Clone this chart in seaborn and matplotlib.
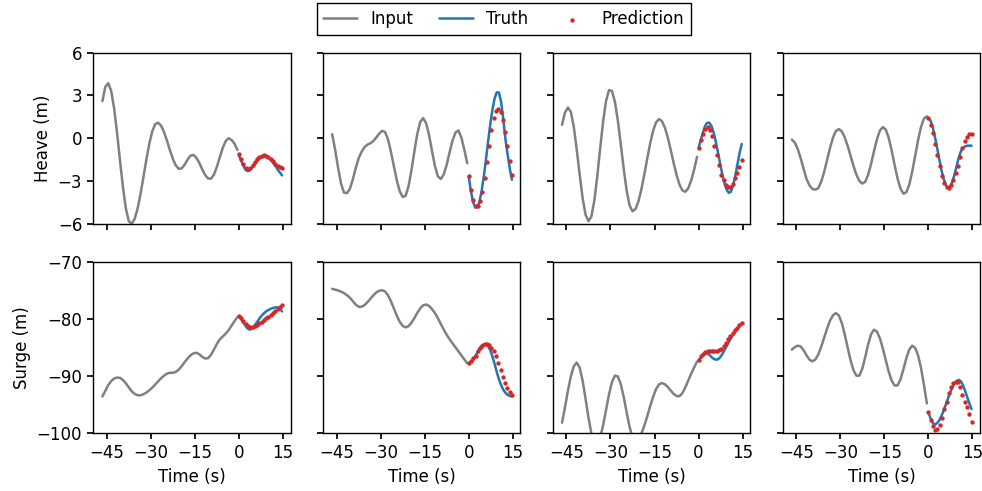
import numpy as np
import pandas as pd
import matplotlib
matplotlib.use("Agg")
import matplotlib.pyplot as plt
import seaborn as sns

# time axes (s)
t_in = np.arange(-46.5, 0, 1.0)
t_true = np.linspace(0, 14.7, 21)
t_pred = np.linspace(0, 14.7, 20)

# heave (m), one list per sample
heave_input = [
    [2.6, 3.6, 3.85, 3.31, 2.09, 0.37, -1.56, -3.42, -4.92, -5.81, -5.98, -5.64, -4.92, -3.89, -2.70, -1.47,
     -0.36, 0.49, 0.99, 1.09, 0.88, 0.43, -0.17, -0.83, -1.44, -1.90, -2.14, -2.11, -1.86, -1.50, -1.22, -1.17,
     -1.36, -1.72, -2.17, -2.57, -2.82, -2.83, -2.55, -2.00, -1.33, -0.68, -0.20, 0.00, -0.12, -0.38, -0.82],
    [0.28, -0.81, -2.07, -3.17, -3.80, -3.85, -3.55, -2.90, -2.10, -1.40, -0.95, -0.62, -0.45, -0.35, -0.20, 0.05,
     0.32, 0.52, 0.44, -0.08, -0.94, -1.95, -2.94, -3.71, -4.11, -4.03, -3.36, -2.23, -0.90, 0.32, 1.15, 1.41,
     1.05, 0.21, -0.90, -1.95, -2.67, -2.85, -2.53, -1.85, -0.98, -0.15, 0.40, 0.54, 0.05, -0.80, -1.75],
    [0.94, 1.8, 2.15, 1.84, 0.80, -0.77, -2.54, -4.18, -5.35, -5.81, -5.48, -4.36, -2.66, -0.69, 1.18, 2.62,
     3.37, 3.31, 2.56, 1.25, -0.40, -2.13, -3.64, -4.70, -5.11, -4.96, -4.44, -3.60, -2.56, -1.44, -0.38, 0.51,
     1.10, 1.34, 1.21, 0.76, 0.07, -0.80, -1.71, -2.56, -3.24, -3.65, -3.75, -3.5, -2.95, -2.2, -1.3],
    [-0.1, -0.3, -0.75, -1.4, -2.15, -2.85, -3.3, -3.55, -3.6, -3.49, -3.05, -2.36, -1.52, -0.68, 0.04, 0.50,
     0.64, 0.48, 0.07, -0.53, -1.23, -1.94, -2.56, -2.99, -3.17, -3.05, -2.55, -1.78, -0.89, -0.06, 0.54, 0.78,
     0.60, 0.02, -0.86, -1.87, -2.81, -3.53, -3.88, -3.78, -3.24, -2.34, -1.24, -0.13, 0.79, 1.38, 1.53],
]
heave_truth = [
    [-1.2, -1.55, -1.9, -2.2, -2.3, -2.25, -2.1, -1.9, -1.68, -1.5, -1.37, -1.3, -1.27, -1.3, -1.4, -1.55,
     -1.75, -1.95, -2.2, -2.4, -2.6],
    [-2.67, -3.7, -4.45, -4.85, -4.82, -4.43, -3.68, -2.67, -1.47, -0.21, 0.99, 2.02, 2.79, 3.21, 3.2, 2.55,
     1.35, -0.05, -1.1, -2.1, -2.9],
    [-0.69, -0.15, 0.4, 0.85, 1.08, 1.08, 0.85, 0.39, -0.25, -0.99, -1.78, -2.52, -3.14, -3.59, -3.82, -3.75,
     -3.3, -2.65, -1.85, -1.05, -0.4],
    [1.42, 1.23, 0.77, 0.13, -0.63, -1.42, -2.18, -2.81, -3.25, -3.46, -3.42, -3.1, -2.6, -2.0, -1.4, -0.95,
     -0.68, -0.57, -0.52, -0.52, -0.52],
]
heave_pred = [
    [-1.1, -1.47, -1.82, -2.07, -2.15, -2.08, -1.9, -1.68, -1.48, -1.33, -1.24, -1.2, -1.22, -1.31, -1.46, -1.62,
     -1.78, -1.91, -2.0, -2.08],
    [-2.67, -3.65, -4.32, -4.72, -4.72, -4.39, -3.74, -2.76, -1.64, -0.52, 0.55, 1.39, 1.88, 2.04, 1.81, 1.25,
     0.41, -0.57, -1.62, -2.55],
    [-0.69, -0.10, 0.30, 0.64, 0.76, 0.60, 0.13, -0.52, -1.15, -1.85, -2.55, -2.95, -3.30, -3.40, -3.40, -3.18,
     -2.80, -2.40, -1.98, -1.55],
    [1.41, 0.94, 0.36, -0.41, -1.2, -1.97, -2.67, -3.14, -3.42, -3.48, -3.27, -2.95, -2.44, -1.92, -1.32, -0.69,
     -0.22, 0.08, 0.29, 0.31],
]

# surge (m)
surge_input = [
    [-93.6, -92.6, -91.6, -90.9, -90.45, -90.27, -90.35, -90.7, -91.3, -92.0, -92.7, -93.15, -93.38, -93.4,
     -93.2, -92.9, -92.5, -92.05, -91.5, -90.95, -90.4, -89.95, -89.6, -89.45, -89.45, -89.3, -88.9, -88.3,
     -87.6, -86.95, -86.4, -86.05, -85.95, -86.2, -86.65, -86.95, -86.9, -86.3, -85.4, -84.4, -83.6, -83.1,
     -82.6, -82.0, -81.2, -80.4, -79.7],
    [-74.75, -74.9, -75.05, -75.25, -75.5, -75.85, -76.3, -76.9, -77.5, -77.9, -77.9, -77.6, -77.1, -76.5,
     -75.9, -75.4, -75.1, -75.0, -75.2, -75.88, -76.93, -78.19, -79.45, -80.53, -81.24, -81.5, -81.29, -80.70,
     -79.87, -78.95, -78.15, -77.64, -77.5, -77.75, -78.3, -79.0, -79.9, -80.9, -81.9, -82.8, -83.6, -84.3,
     -85.0, -85.7, -86.4, -87.1, -87.8],
    [-98.2, -95.5, -92.6, -90.1, -88.3, -87.65, -88.54, -90.80, -93.96, -97.28, -100.06, -101.72, -101.9,
     -100.77, -98.63, -95.93, -93.22, -91.08, -89.95, -90.08, -91.41, -93.67, -96.36, -98.89, -100.74, -101.5,
     -100.95, -100.1, -98.77, -97.11, -95.34, -93.69, -92.35, -91.50, -91.25, -91.45, -91.93, -92.55, -93.14,
     -93.52, -93.55, -93.0, -92.0, -90.8, -89.6, -88.5, -87.5],
    [-85.4, -84.95, -84.7, -84.85, -85.5, -86.4, -87.15, -87.45, -87.14, -86.24, -84.89, -83.31, -81.70, -80.32,
     -79.38, -79.0, -79.4, -80.71, -82.70, -85.02, -87.26, -89.01, -89.97, -89.94, -88.73, -86.69, -84.43,
     -82.66, -81.9, -82.26, -83.42, -85.20, -87.27, -89.27, -90.82, -91.69, -91.66, -90.62, -88.85, -86.89,
     -85.36, -84.7, -85.1, -86.4, -88.6, -91.6, -94.8],
]
surge_truth = [
    [-79.6, -80.0, -80.6, -81.2, -81.7, -81.9, -81.75, -81.3, -80.8, -80.25, -79.7, -79.25, -78.9, -78.6, -78.4,
     -78.2, -78.1, -78.0, -78.0, -78.3, -78.7],
    [-87.75, -87.6, -87.2, -86.6, -85.9, -85.2, -84.7, -84.45, -84.45, -84.8, -85.5, -86.6, -87.9, -89.3, -90.6,
     -91.6, -92.4, -92.95, -93.3, -93.5, -93.6],
    [-87.3, -86.8, -86.4, -86.15, -86.1, -86.3, -86.7, -87.0, -87.15, -87.1, -86.75, -86.2, -85.5, -84.8, -84.1,
     -83.4, -82.8, -82.2, -81.7, -81.2, -80.8],
    [-96.4, -97.4, -98.2, -98.5, -98.29, -97.80, -97.06, -96.14, -95.10, -94.03, -92.99, -92.08, -91.36, -90.89,
     -90.7, -90.9, -91.6, -92.6, -93.7, -94.8, -95.8],
]
surge_pred = [
    [-79.5, -79.9, -80.4, -80.9, -81.25, -81.45, -81.4, -81.25, -81.05, -80.8, -80.5, -80.2, -79.9, -79.6, -79.3,
     -79.0, -78.65, -78.3, -77.95, -77.6],
    [-87.75, -87.45, -86.87, -86.46, -85.7, -85.1, -84.7, -84.4, -84.36, -84.5, -85.1, -85.7, -86.6, -87.75,
     -88.9, -90.2, -91.25, -92.2, -92.9, -93.3],
    [-87.3, -86.6, -86.1, -85.8, -85.65, -85.6, -85.65, -85.7, -85.65, -85.5, -85.2, -84.75, -84.2, -83.6, -83.05,
     -82.5, -82.0, -81.55, -81.1, -80.7],
    [-96.35, -97.8, -98.8, -99.4, -99.3, -98.55, -97.4, -95.8, -94.5, -93.0, -92.0, -91.3, -91.0, -91.15, -92.0,
     -93.3, -94.6, -95.5, -96.6, -98.0],
]

sns.set_theme(style="ticks", rc={
    "axes.edgecolor": "black", "xtick.color": "black", "ytick.color": "black",
    "axes.labelcolor": "black", "text.color": "black",
    "font.size": 12, "axes.labelsize": 12, "xtick.labelsize": 12, "ytick.labelsize": 12,
    "legend.fontsize": 12, "xtick.major.size": 4.5, "ytick.major.size": 4.5,
    "axes.linewidth": 1.0,
})
plt.rcParams["font.family"] = ["DejaVu Sans"]

fig, axes = plt.subplots(2, 4, figsize=(9.82, 4.91), dpi=100, sharex=True, sharey="row")
fig.subplots_adjust(left=0.095, right=0.998, top=0.893, bottom=0.118, wspace=0.165, hspace=0.22)

rows = [
    (heave_input, heave_truth, heave_pred, "Heave (m)", (-6, 6), [-6, -3, 0, 3, 6]),
    (surge_input, surge_truth, surge_pred, "Surge (m)", (-100, -70), [-100, -90, -80, -70]),
]

for r, (inp, tru, pred, ylab, ylim, yticks) in enumerate(rows):
    for c in range(4):
        ax = axes[r, c]
        sns.lineplot(x=t_in, y=inp[c], color="gray", lw=1.8, label="Input", ax=ax, legend=False)
        sns.lineplot(x=t_true, y=tru[c], color="tab:blue", lw=1.8, label="Truth", ax=ax, legend=False)
        sns.scatterplot(x=t_pred, y=pred[c], color="tab:red", s=10, linewidth=0,
                        label="Prediction", ax=ax, legend=False, zorder=3)
        ax.set_ylim(*ylim)
        ax.set_yticks(yticks)
        ax.set_xlim(-49.6, 17.6)
        ax.set_xticks([-45, -30, -15, 0, 15])
        ax.set_xlabel("Time (s)" if r == 1 else "")
        ax.set_ylabel(ylab if c == 0 else "")

handles, labels = axes[0, 0].get_legend_handles_labels()
fig.legend(handles, labels, loc="upper center", bbox_to_anchor=(0.513, 1.01), ncol=3,
           frameon=True, fancybox=False, edgecolor="black", framealpha=1, columnspacing=1.6)

fig.savefig("out.png", dpi=100)
